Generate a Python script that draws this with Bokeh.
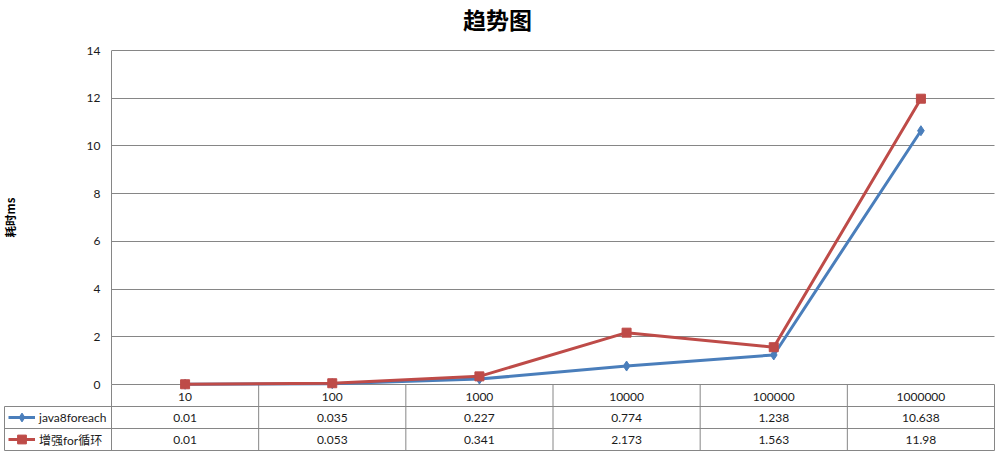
from bokeh.plotting import figure
from bokeh.models import (Range1d, LinearAxis, FixedTicker, Label, Grid, Legend, LegendItem)
from bokeh.core.properties import value
from bokeh.embed import file_html
from bokeh.resources import INLINE

# ---- data ----
categories = ["10", "100", "1000", "10000", "100000", "1000000"]
java8foreach = [0.01, 0.035, 0.227, 0.774, 1.238, 10.638]
enhanced_for = [0.01, 0.053, 0.341, 2.173, 1.563, 11.98]
series_names = ["java8foreach", "增强for循环"]
y_ticks = [0, 2, 4, 6, 8, 10, 12, 14]
title_text = "趋势图"
y_label = "耗时ms"

# ---- layout constants (picture pixels) ----
W, H = 995, 451
PLOT_L, PLOT_R = 111, 994          # plot area left/right
PLOT_T, PLOT_B = 50, 384           # y=14 / y=0
FRAME_L, FRAME_R = 0, 995
FRAME_T, FRAME_B = 0, 451
ROW_H = 22
LEG_L = 4

ncat = len(categories)
xu = (PLOT_R - PLOT_L) / ncat               # px per category
yu = (PLOT_B - PLOT_T) / (y_ticks[-1])      # px per y unit
x0 = -0.5
x_start = x0 - (PLOT_L - FRAME_L) / xu
x_end = x0 + (FRAME_R - PLOT_L) / xu
y_start = -(FRAME_B - PLOT_B) / yu
y_end = (PLOT_B - FRAME_T) / yu

def px2x(px):
    return x0 + (px - PLOT_L) / xu

def py2y(py):
    return (PLOT_B - py) / yu

FONT = "Lato, 'Noto Sans CJK SC', sans-serif"
CJK = "'Noto Sans CJK SC', sans-serif"
GRID_C = "#868686"
TXT_C = "#1a1a1a"
BLUE = "#4A7EBB"
RED = "#BE4B48"

p = figure(width=W, height=H, output_backend="svg", toolbar_location=None,
           x_range=Range1d(x_start, x_end), y_range=Range1d(y_start, y_end),
           x_axis_type=None, y_axis_type=None,
           min_border_left=FRAME_L, min_border_top=FRAME_T,
           min_border_right=W - FRAME_R, min_border_bottom=H - FRAME_B)
p.outline_line_color = None
p.background_fill_color = "white"
p.border_fill_color = "white"

# y axis (fixed inside frame)
yax = LinearAxis(fixed_location=x0, bounds=(y_ticks[0], y_ticks[-1]),
                 ticker=FixedTicker(ticks=y_ticks))
yax.axis_line_color = GRID_C
yax.major_tick_out = 0
yax.major_tick_in = 0
yax.minor_tick_line_color = None
yax.major_label_standoff = 11
yax.major_label_text_font = FONT
yax.major_label_text_font_size = "12px"
yax.major_label_text_color = TXT_C
yax.axis_label = y_label
yax.axis_label_text_font = CJK
yax.axis_label_text_font_size = "11.5px"
yax.axis_label_text_font_style = "bold"
yax.axis_label_text_color = "black"
yax.axis_label_standoff = 66
p.add_layout(yax, "left")

# x axis: category labels in table header row
xax = LinearAxis(fixed_location=0, ticker=FixedTicker(ticks=list(range(ncat))),
                 major_label_overrides={i: c for i, c in enumerate(categories)})
xax.axis_line_color = None
xax.major_tick_line_color = None
xax.minor_tick_line_color = None
xax.major_label_standoff = 2
xax.major_label_text_font = FONT
xax.major_label_text_font_size = "12px"
xax.major_label_text_color = TXT_C
p.add_layout(xax, "below")

# horizontal gridlines
grid = Grid(dimension=1, ticker=FixedTicker(ticks=y_ticks), bounds=(y_ticks[0], y_ticks[-1]))
grid.grid_line_color = GRID_C
grid.grid_line_width = 1
if "cross_bounds" in Grid.properties():
    grid.cross_bounds = (x0, ncat - 0.5)
p.add_layout(grid)
# mask gridlines left of plot area (if cross_bounds unavailable)
p.quad(left=[x_start], right=[x0], bottom=[0.05], top=[y_end],
       fill_color="white", line_color=None)

# table lines
r1 = py2y(PLOT_B + ROW_H)
r2 = py2y(PLOT_B + 2 * ROW_H)
r3 = py2y(PLOT_B + 3 * ROW_H)
xl = px2x(LEG_L)
xr = ncat - 0.5
p.segment(x0=[xl, xl, xl], x1=[xr, xr, xr], y0=[r1, r2, r3], y1=[r1, r2, r3],
          line_color=GRID_C, line_width=1)
vx = [i - 0.5 for i in range(ncat + 1)]
p.segment(x0=vx, x1=vx, y0=[0] * len(vx), y1=[r3] * len(vx), line_color=GRID_C, line_width=1)
p.segment(x0=[xl], x1=[xl], y0=[r1], y1=[r3], line_color=GRID_C, line_width=1)

# table values
xs = list(range(ncat))
row1_c = (r1 + r2) / 2
row2_c = (r2 + r3) / 2
p.text(x=xs, y=[row1_c] * ncat, text=[str(v) for v in java8foreach],
       text_font=value(FONT), text_font_size="12px", text_color=TXT_C,
       text_align="center", text_baseline="middle")
p.text(x=xs, y=[row2_c] * ncat, text=[str(v) for v in enhanced_for],
       text_font=value(FONT), text_font_size="12px", text_color=TXT_C,
       text_align="center", text_baseline="middle")

# series lines
l1 = p.line(xs, java8foreach, line_color=BLUE, line_width=3)
m1 = p.scatter(xs, java8foreach, marker="diamond", size=10, fill_color=BLUE, line_color=BLUE)
l2 = p.line(xs, enhanced_for, line_color=RED, line_width=3)
m2 = p.scatter(xs, enhanced_for, marker="square", size=9, fill_color=RED, line_color=RED)

# legend in the table's left column
legend = Legend(items=[LegendItem(label=series_names[0], renderers=[l1, m1]),
                       LegendItem(label=series_names[1], renderers=[l2, m2])],
                location=(LEG_L + 4 - FRAME_L, FRAME_B - (PLOT_B + 3 * ROW_H)),
                orientation="vertical", spacing=0, padding=0, margin=0,
                glyph_width=27, glyph_height=ROW_H, label_height=ROW_H,
                label_standoff=4, border_line_color=None, background_fill_alpha=0,
                label_text_font=FONT, label_text_font_size="12px", label_text_color=TXT_C)
p.add_layout(legend)

# title
p.add_layout(Label(x=px2x(497), y=py2y(18), text=title_text, text_align="center",
                   text_baseline="middle", text_font=CJK, text_font_size="23px",
                   text_font_style="bold", text_color="black"))

open("out.html", "w").write(file_html(p, INLINE))
